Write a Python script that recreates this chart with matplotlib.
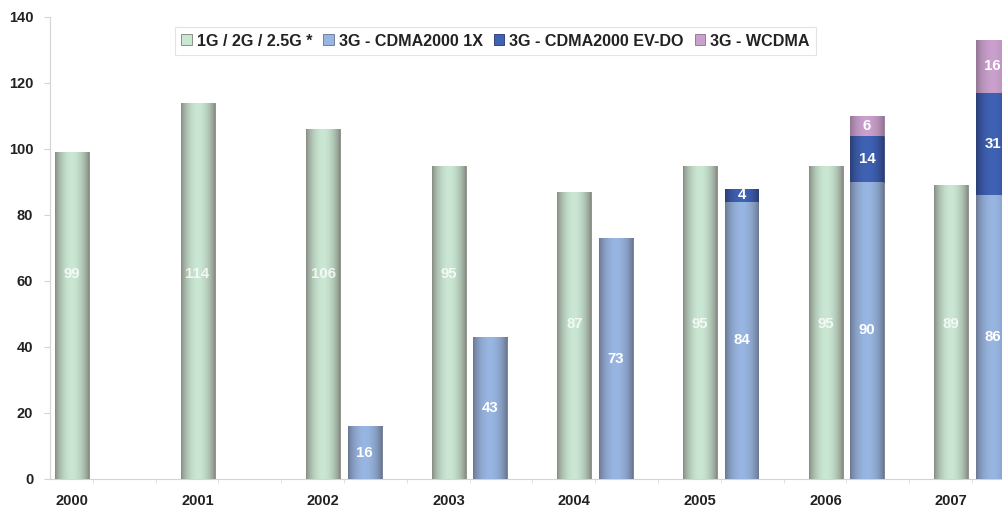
import numpy as np
import matplotlib.pyplot as plt
from matplotlib.colors import to_rgb
from matplotlib.patches import Patch

# data
years = ['2000', '2001', '2002', '2003', '2004', '2005', '2006', '2007']
gen_1g_2g = [99, 114, 106, 95, 87, 95, 95, 89]
cdma_1x = [0, 0, 16, 43, 73, 84, 90, 86]
cdma_evdo = [0, 0, 0, 0, 0, 4, 14, 31]
wcdma = [0, 0, 0, 0, 0, 0, 6, 16]

series_names = ['1G / 2G / 2.5G *', '3G - CDMA2000 1X', '3G - CDMA2000 EV-DO', '3G - WCDMA']

# (edge colour, centre colour) for the cylinder-ish shading
shades = {
    'green': ('#858a80', '#c9e7d3'),
    'blue': ('#6a7690', '#98b6e2'),
    'dark': ('#2a3c74', '#3f62b4'),
    'pink': ('#917494', '#caa0cc'),
}
edges = {'green': '#7d8278', 'blue': '#66708a', 'dark': '#25346a', 'pink': '#8a6f8c'}

plt.rcParams['font.family'] = ['Liberation Sans', 'DejaVu Sans']
plt.rcParams['font.weight'] = 'bold'

fig = plt.figure(figsize=(10.02, 5.15), dpi=100)
ax = fig.add_axes([50 / 1002, 1 - 479 / 515, 952 / 1002, 462 / 515])

x = np.arange(len(years))
w = 0.27
off = 0.33


def shade_bars(bars, key):
    edge, centre = np.array(to_rgb(shades[key][0])), np.array(to_rgb(shades[key][1]))
    t = np.linspace(0, 1, 64)
    k = np.sin(np.pi * t) ** 0.75
    grad = edge[None, :] * (1 - k[:, None]) + centre[None, :] * k[:, None]
    grad = grad[None, :, :]
    for b in bars:
        h = b.get_height()
        if h <= 0:
            continue
        x0, y0 = b.get_x(), b.get_y()
        im = ax.imshow(grad, extent=[x0, x0 + b.get_width(), y0, y0 + h],
                       aspect='auto', zorder=3, interpolation='bilinear')
        im.set_clip_path(b)
        b.set_facecolor('none')


b1 = ax.bar(x, gen_1g_2g, w, zorder=2, edgecolor=edges['green'], linewidth=0.6)
b2 = ax.bar(x + off, cdma_1x, w, zorder=2, edgecolor=edges['blue'], linewidth=0.6)
bottom3 = np.array(cdma_1x)
b3 = ax.bar(x + off, cdma_evdo, w, bottom=bottom3, zorder=2, edgecolor=edges['dark'], linewidth=0.6)
bottom4 = bottom3 + np.array(cdma_evdo)
b4 = ax.bar(x + off, wcdma, w, bottom=bottom4, zorder=2, edgecolor=edges['pink'], linewidth=0.6)

shade_bars(b1, 'green')
shade_bars(b2, 'blue')
shade_bars(b3, 'dark')
shade_bars(b4, 'pink')

# value labels
lab_kw = dict(ha='center', va='center', color='white', fontsize=10.8, fontweight='bold', zorder=5)
for i, v in enumerate(gen_1g_2g):
    ypos = 62 if i < 4 else 47
    ax.text(x[i], ypos, str(v), alpha=0.8, **lab_kw)
for vals, bots in ((cdma_1x, np.zeros(len(years))), (cdma_evdo, bottom3), (wcdma, bottom4)):
    for i, v in enumerate(vals):
        if v > 0:
            ax.text(x[i] + off, bots[i] + v / 2, str(v), **lab_kw)

ax.set_yticks(np.arange(0, 141, 20))
ax.set_xticks(x)
ax.set_xticklabels(years)
ax.set_xticks(np.concatenate([x + off / 2, x + 0.5 + off / 2]), minor=True)
ax.set_xlim(-0.175, 7.404)
ax.set_ylim(0, 140)

for s in ('top', 'right'):
    ax.spines[s].set_visible(False)
ax.spines['left'].set_color('#d4d4d4')
ax.spines['bottom'].set_color('#d4d4d4')
ax.tick_params(axis='y', length=4, color='#d4d4d4', pad=8, labelsize=10.5, labelcolor='#222222')
ax.tick_params(axis='x', which='major', length=0, pad=11, labelsize=10.5, labelcolor='#222222')
ax.tick_params(axis='x', which='minor', length=3, color='#dcdcdc')

handles = [Patch(facecolor=shades[k][1], edgecolor=edges[k], linewidth=0.6)
           for k in ('green', 'blue', 'dark', 'pink')]
leg = ax.legend(handles, series_names, loc='center', bbox_to_anchor=(0.468, 0.948), ncol=4,
                fontsize=11.6, frameon=True, fancybox=False, handlelength=0.65, handleheight=0.65,
                handletextpad=0.3, columnspacing=0.7, borderpad=0.4, borderaxespad=0)
leg.get_frame().set_edgecolor('#dddddd')
leg.get_frame().set_linewidth(0.8)
for t in leg.get_texts():
    t.set_color('#222222')

fig.savefig('out.png', dpi=100)
